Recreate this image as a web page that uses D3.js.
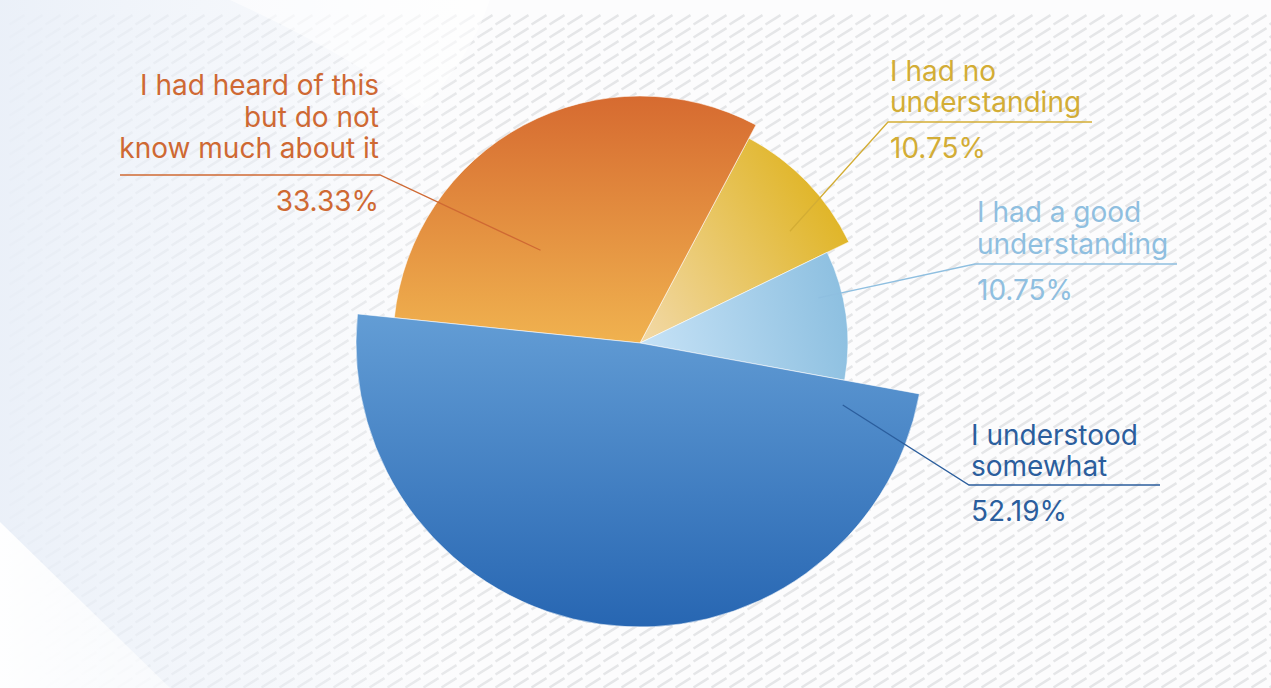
<!DOCTYPE html>
<html>
<head>
<meta charset="utf-8">
<script src="https://cdn.jsdelivr.net/npm/d3@7/dist/d3.min.js"></script>
<style>
  html, body { margin: 0; padding: 0; background: #ffffff; }
  svg { display: block; }
  text { font-family: Inter, "Liberation Sans", Arial, sans-serif; }
</style>
</head>
<body>
<svg id="chart" width="1271" height="688"></svg>
<script>
// Survey answers, listed clockwise starting at the upper right
const categories = [
  "I had no understanding",
  "I had a good understanding",
  "I understood somewhat",
  "I had heard of this but do not know much about it"
];
const values = [10.75, 10.75, 52.19, 33.33];
const labelLines = [
  ["I had no", "understanding"],
  ["I had a good", "understanding"],
  ["I understood", "somewhat"],
  ["I had heard of this", "but do not", "know much about it"]
];

// Styling for each slice (same order as the data)
const sliceRadius = [232, 208, 284, 247];
const textColor = ["#d3ad35", "#8fbfe0", "#2b5e9d", "#cf6933"];
const gradStops = [
  [["0%", "#f2d9a8"], ["100%", "#dfb31f"]],
  [["0%", "#c6e2f6"], ["100%", "#8cbfe0"]],
  [["0%", "#66a0d7"], ["100%", "#2766b2"]],
  [["0%", "#d66a30"], ["100%", "#f0b24f"]]
];
const gradAxis = [
  [0, 0, 215, -130],
  [0, 0, 210, -40],
  [0, -45, 0, 285],
  [0, -248, 0, 0]
];
// Leader anchors inside each slice (degrees clockwise from 12 o'clock, radius)
const anchorPolar = [[53.3, 187], [75.8, 184], [107, 212], [313, 136]];
// Label elbows and underline ends
const elbow = [[888, 122], [975, 264], [969, 485], [380, 175]];
const underlineEnd = [1092, 1177, 1160, 120];
const lastLineGap = [10, 10.5, 9, 17];
const lineHeight = 31.5;
const fontSize = 28;

const W = 1271, H = 688;
const cx = 640, cy = 343;
const svg = d3.select("#chart");
const defs = svg.append("defs");

// ---- background ----
const stripe = defs.append("pattern")
  .attr("id", "stripes").attr("patternUnits", "userSpaceOnUse")
  .attr("x", 8).attr("y", 13).attr("width", 18).attr("height", 13);
stripe.append("line")
  .attr("x1", 1.5).attr("y1", 11.5).attr("x2", 16.5).attr("y2", 2.2)
  .attr("stroke", "#e5e6e8").attr("stroke-width", 2.6).attr("stroke-linecap", "butt");

const leftTint = defs.append("linearGradient").attr("id", "leftTint")
  .attr("x1", 0).attr("y1", 0).attr("x2", 1).attr("y2", 0);
leftTint.append("stop").attr("offset", "0%").attr("stop-color", "#e9eff8").attr("stop-opacity", 0.92);
leftTint.append("stop").attr("offset", "55%").attr("stop-color", "#eef3fa").attr("stop-opacity", 0.45);
leftTint.append("stop").attr("offset", "100%").attr("stop-color", "#ffffff").attr("stop-opacity", 0);

const cornerWhite = defs.append("linearGradient").attr("id", "cornerWhite")
  .attr("x1", 0).attr("y1", 0).attr("x2", 1).attr("y2", 0);
cornerWhite.append("stop").attr("offset", "0%").attr("stop-color", "#ffffff").attr("stop-opacity", 0.95);
cornerWhite.append("stop").attr("offset", "100%").attr("stop-color", "#ffffff").attr("stop-opacity", 0.55);

svg.append("rect").attr("width", W).attr("height", H).attr("fill", "#fcfcfd");
svg.append("rect").attr("x", 8).attr("y", 13).attr("width", W - 8).attr("height", H - 13)
  .attr("fill", "url(#stripes)");
svg.append("rect").attr("width", 520).attr("height", H).attr("fill", "url(#leftTint)");
// soft white shapes at the left edge
svg.append("path").attr("d", "M0,522 L170,688 L0,688 Z").attr("fill", "url(#cornerWhite)");
svg.append("path").attr("d", "M230,0 L490,0 Q470,60 420,110 Q360,60 230,0 Z")
  .attr("fill", "#ffffff").attr("opacity", 0.55);

// ---- pie ----
const pie = d3.pie().sort(null).value(d => d)
  .startAngle(28 * Math.PI / 180).endAngle(28 * Math.PI / 180 + 2 * Math.PI);
const arcs = pie(values);

const g = svg.append("g").attr("transform", `translate(${cx},${cy})`);

arcs.forEach((a, i) => {
  const ax = gradAxis[i];
  const lg = defs.append("linearGradient").attr("id", "slice" + i)
    .attr("gradientUnits", "userSpaceOnUse")
    .attr("x1", ax[0]).attr("y1", ax[1]).attr("x2", ax[2]).attr("y2", ax[3]);
  gradStops[i].forEach(s => lg.append("stop").attr("offset", s[0]).attr("stop-color", s[1]));
});

const arcGen = d3.arc().innerRadius(0).outerRadius((d, i) => sliceRadius[i]);

// draw the largest slice last so its straight edges sit on top
const drawOrder = [0, 1, 3, 2];
drawOrder.forEach(i => {
  g.append("path")
    .attr("d", arcGen(arcs[i], i))
    .attr("fill", `url(#slice${i})`)
    .attr("stroke", "#ffffff").attr("stroke-width", 0.8).attr("stroke-opacity", 0.7)
    .attr("stroke-linejoin", "round");
});

// ---- leaders and labels ----
const fmt = v => v.toFixed(2) + "%";
const labels = svg.append("g");

arcs.forEach((a, i) => {
  const ang = anchorPolar[i][0] * Math.PI / 180, r = anchorPolar[i][1];
  const sx = cx + r * Math.sin(ang), sy = cy - r * Math.cos(ang);
  const [ex, ey] = elbow[i];
  const rightSide = underlineEnd[i] > ex;

  labels.append("polyline")
    .attr("points", `${sx},${sy} ${ex},${ey} ${underlineEnd[i]},${ey}`)
    .attr("fill", "none").attr("stroke", textColor[i]).attr("stroke-width", 1.3);

  const lines = labelLines[i];
  const tx = rightSide ? ex + 2 : ex - 1;
  const anchor = rightSide ? "start" : "end";
  const lastBase = ey - lastLineGap[i];
  lines.forEach((t, k) => {
    labels.append("text")
      .attr("x", tx).attr("y", lastBase - (lines.length - 1 - k) * lineHeight)
      .attr("text-anchor", anchor)
      .attr("font-size", fontSize).attr("fill", textColor[i])
      .text(t);
  });
  labels.append("text")
    .attr("x", tx).attr("y", ey + 36)
    .attr("text-anchor", anchor)
    .attr("font-size", fontSize).attr("fill", textColor[i])
    .text(fmt(a.data));
});
</script>
</body>
</html>
